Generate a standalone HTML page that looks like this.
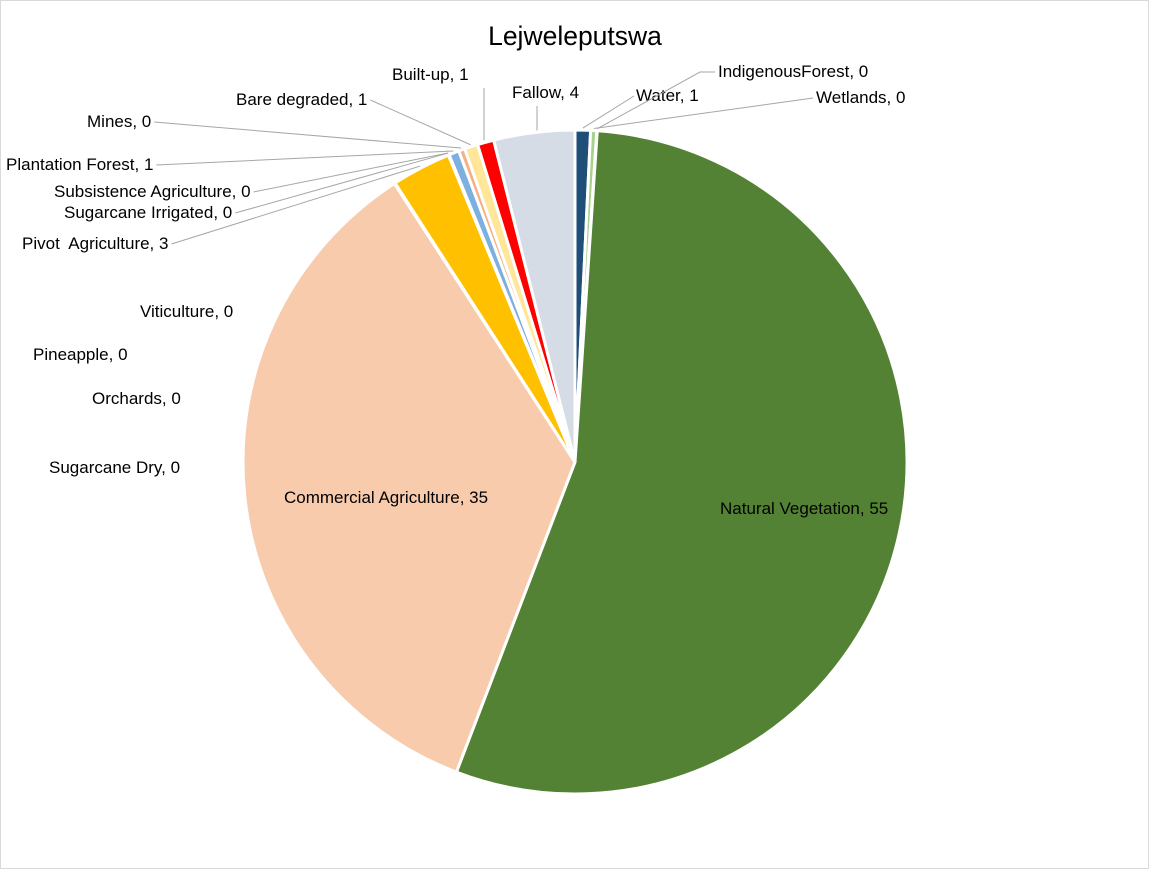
<!DOCTYPE html>
<html><head><meta charset="utf-8"><style>
body{margin:0;background:#fff;}
svg{display:block;font-family:"Liberation Sans",sans-serif;}
text{white-space:pre;}
</style></head><body>
<svg width="1149" height="869">
<rect x="0.5" y="0.5" width="1148" height="868" fill="#fff" stroke="#d9d9d9"/>
<text x="575" y="45" text-anchor="middle" font-size="26.5" fill="#000">Lejweleputswa</text>
<g id="slices"></g>
<g id="labels" font-size="17" fill="#000"></g>
<script>
const categories=["Water","Wetlands","IndigenousForest","Natural Vegetation","Commercial Agriculture","Sugarcane Dry","Orchards","Pineapple","Viticulture","Pivot  Agriculture","Sugarcane Irrigated","Subsistence Agriculture","Plantation Forest","Mines","Bare degraded","Built-up","Fallow"];
const values=[0.75,0.3,0.02,54.76,35.04,0.01,0.01,0.01,0.01,2.89,0.02,0.02,0.5,0.3,0.65,0.8,3.94];
const labels=["1","0","0","55","35","0","0","0","0","3","0","0","1","0","1","1","4"];
const colors=["#1F4E79","#A9D18E","#70AD47","#548235","#F8CBAD","#C55A11","#843C0C","#BF9000","#7F6000","#FFC000","#2E75B6","#9DC3E6","#7EB0DF","#F4B183","#FFE699","#FF0000","#D6DCE5"];
const cx=575,cy=462,r=332;
const NS="http://www.w3.org/2000/svg";
const total=values.reduce((a,b)=>a+b,0);
function pt(a,rr){return [cx+rr*Math.sin(a),cy-rr*Math.cos(a)];}
const sg=document.getElementById('slices');
let a0=0;
const mids=[];
values.forEach((v,i)=>{
  const a1=a0+v/total*2*Math.PI;
  const p0=pt(a0,r),p1=pt(a1,r);
  const p=document.createElementNS(NS,'path');
  p.setAttribute('d',`M${cx},${cy}L${p0[0]},${p0[1]}A${r},${r} 0 ${a1-a0>Math.PI?1:0} 1 ${p1[0]},${p1[1]}Z`);
  p.setAttribute('fill',colors[i]);p.setAttribute('stroke','#fff');p.setAttribute('stroke-width','3');
  
  
  sg.appendChild(p);
  mids.push((a0+a1)/2);
  a0=a1;
});
const pos={
 "Water":[636,101,1],
 "Wetlands":[816,103,1],
 "IndigenousForest":[718,77,1],
 "Natural Vegetation":[720,514,0],
 "Commercial Agriculture":[284,503,0],
 "Sugarcane Dry":[49,473,0],
 "Orchards":[92,404,0],
 "Pineapple":[33,360,0],
 "Viticulture":[140,317,0],
 "Pivot  Agriculture":[22,249,1],
 "Sugarcane Irrigated":[64,218,1],
 "Subsistence Agriculture":[54,197,1],
 "Plantation Forest":[6,170,1],
 "Mines":[87,127,1],
 "Bare degraded":[236,105,1],
 "Built-up":[392,80,1],
 "Fallow":[512,98,1]
};
const lg=document.getElementById('labels');
categories.forEach((c,i)=>{
  const q=pos[c];
  const t=document.createElementNS(NS,'text');
  t.setAttribute('x',q[0]);t.setAttribute('y',q[1]);
  t.textContent=c+", "+labels[i];
  
  
  lg.appendChild(t);
  if(q[2]){
    const w=t.getComputedTextLength();
    const e=pt(mids[i],r+2);
    let sx,sy;
    if(c==="Water"){sx=q[0]-2;sy=q[1]-5;}
    else if(c==="Wetlands"||c==="IndigenousForest"){sx=q[0]-3;sy=q[1]-5;}
    else if(c==="Fallow"||c==="Built-up"){sx=c==="Fallow"?537:484;sy=q[1]+8;}
    else {sx=q[0]+w+3;sy=q[1]-5;}
    const l=document.createElementNS(NS,'polyline');
    let pts;
    if(c==="Fallow"||c==="Built-up") pts=`${sx},${sy} ${sx},${e[1]}`;
    else if(c==="IndigenousForest") pts=`${sx},${sy} 700,${sy} ${e[0]},${e[1]}`;
    else pts=`${sx},${sy} ${e[0]},${e[1]}`;
    l.setAttribute('points',pts);
    l.setAttribute('fill','none');l.setAttribute('stroke','#a6a6a6');l.setAttribute('stroke-width','1');
    
    
    lg.appendChild(l);
  }
});
</script>
</svg>
</body></html>
